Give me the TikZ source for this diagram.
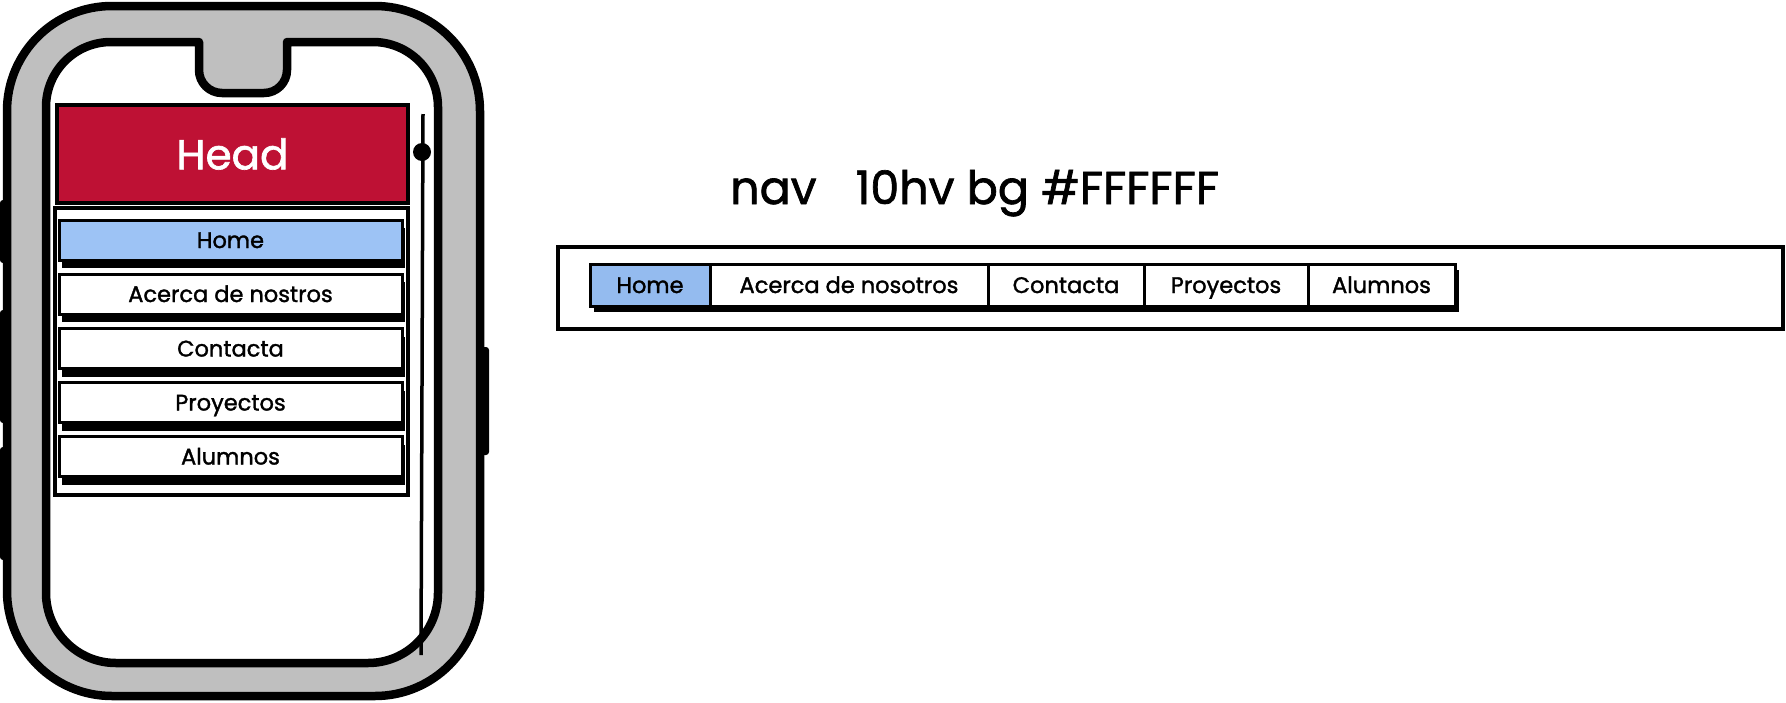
\documentclass[tikz,border=0pt]{standalone}
\usepackage{fontspec}
\setmainfont{Poppins}[FakeBold=1.5]
\usetikzlibrary{shadows}
\definecolor{phonegray}{HTML}{BFBFBF}
\definecolor{headred}{HTML}{BE1134}
\definecolor{homeblue}{HTML}{9DC3F5}
\definecolor{navblue}{HTML}{94BBEF}
\begin{document}
\begin{tikzpicture}[x=1pt,y=-1pt,
  itemfont/.style={font=\fontsize{22.5}{26}\selectfont, text height=18pt, text depth=2pt},
  menuitem/.style={draw=black, line width=3pt, fill=white, minimum width=343pt,
    minimum height=40pt, inner sep=0pt, itemfont,
    drop shadow={shadow xshift=3pt, shadow yshift=-8pt, fill=black, opacity=1}},
  navitem/.style={draw=black, line width=3pt, fill=white, minimum height=42pt,
    inner sep=0pt, itemfont,
    drop shadow={shadow xshift=4pt, shadow yshift=-6pt, fill=black, opacity=1}},
  button/.style={fill=black, rounded corners=3pt},
  thick line/.style={line width=8.5pt, line join=round}]
\useasboundingbox (0,0) rectangle (1786,702);
% side buttons
\fill[button] (0,200) rectangle (12,263);
\fill[button] (0,310) rectangle (12,423);
\fill[button] (0,447) rectangle (12,560);
\fill[button] (476,347) rectangle (489,455);
% phone body
\draw[thick line, fill=phonegray, rounded corners=105pt] (7,6) rectangle (480,696);
% screen with notch
\draw[thick line, fill=white] (46,107) .. controls (46,71.1) and (75.1,42) .. (111,42)
  -- (199,42) -- (199,70) .. controls (199,82.7) and (209.3,93) .. (222,93)
  -- (264,93) .. controls (276.7,93) and (287,82.7) .. (287,70)
  -- (287,42) -- (373,42) .. controls (408.9,42) and (438,71.1) .. (438,107)
  -- (438,593) .. controls (438,631.6) and (406.6,663) .. (368,663)
  -- (116,663) .. controls (77.4,663) and (46,631.6) .. (46,593) -- cycle;
% head
\node[draw=black, line width=4.5pt, fill=headred, minimum width=351pt, minimum height=98pt,
  inner sep=0pt, text=white, font=\fontsize{42}{48}\selectfont] (head) at (232.5,154) {Head};
% scrollbar
\coordinate (stop) at (423,114);
\coordinate (sbot) at (421,655);
\draw[line width=3.5pt] (stop) -- (sbot);
\node[circle, fill=black, minimum size=18pt, inner sep=0pt] (dot) at (422,152) {};
% menu container
\node[draw=black, line width=3.5pt, minimum width=353pt, minimum height=287pt, inner sep=0pt]
  (menu) at (231.5,351.5) {};
% menu items
\node[menuitem, fill=homeblue] (m1) at (230.5,240) {Home};
\node[menuitem] (m2) at (230.5,294) {Acerca de nostros};
\node[menuitem] (m3) at (230.5,348.5) {Contacta};
\node[menuitem] (m4) at (230.5,402.5) {Proyectos};
\node[menuitem] (m5) at (230.5,456.5) {Alumnos};
% title
\node[anchor=base west, inner sep=0pt, font=\fontsize{46}{52}\selectfont] (title) at (730,204)
  {nav\hspace{0.85em}10hv bg \#FFFFFF};
% nav bar
\node[draw=black, line width=4pt, minimum width=1225pt, minimum height=82pt, inner sep=0pt]
  (nav) at (1170.5,287.5) {};
\node[navitem, fill=navblue, minimum width=120pt] (n1) at (650,285) {Home};
\node[navitem, minimum width=278pt] (n2) at (849,285) {Acerca de nosotros};
\node[navitem, minimum width=156pt] (n3) at (1066,285) {Contacta};
\node[navitem, minimum width=164pt] (n4) at (1226,285) {Proyectos};
\node[navitem, minimum width=147pt] (n5) at (1381.5,285) {Alumnos};
\end{tikzpicture}
\end{document}
